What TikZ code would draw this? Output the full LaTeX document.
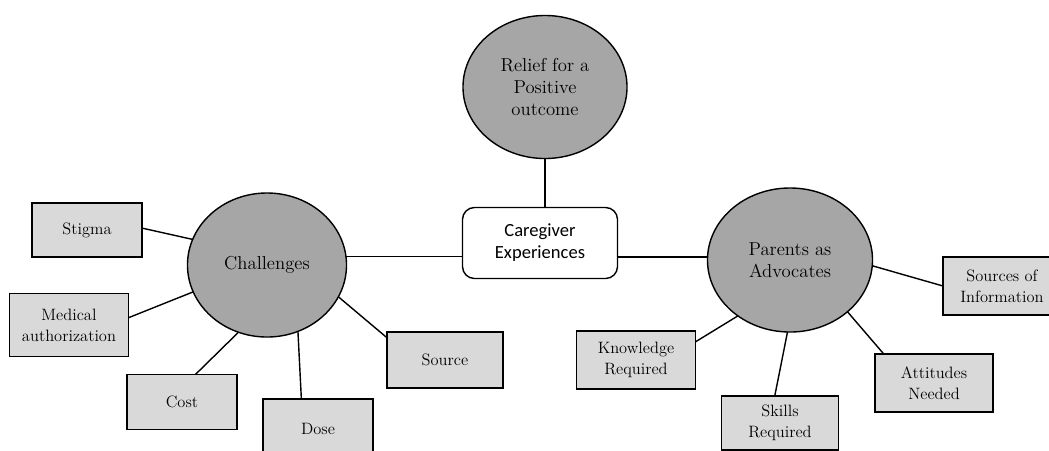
\documentclass[tikz,border=0pt]{standalone}
\usepackage{fontspec}
\newfontfamily\carlito{Carlito}
\usetikzlibrary{shapes.geometric}
\definecolor{bubblegray}{RGB}{166,166,166}
\definecolor{leafgray}{RGB}{217,217,217}
\begin{document}
\begin{tikzpicture}[x=0.025cm, y=-0.025cm,
    bubble/.style={ellipse, draw, line width=1pt, fill=bubblegray, inner sep=0pt, outer sep=0pt,
        align=center, font=\rmfamily\fontsize{13.3}{15.6}\selectfont},
    leaf/.style={rectangle, draw, line width=1.1pt, fill=leafgray, inner sep=0pt, outer sep=0pt,
        align=center, font=\rmfamily\fontsize{11.7}{14.9}\selectfont},
    hub/.style={rectangle, rounded corners=0.3cm, draw, line width=1pt, fill=white, inner sep=0pt,
        outer sep=0pt, align=center, font=\carlito\fontsize{13.2}{15.6}\selectfont},
    link/.style={line width=1pt}]
    \useasboundingbox (0,0) rectangle (1049,450);
    % centre and main themes
    \node[hub, minimum width=3.875cm, minimum height=1.775cm] (care) at (540,243) {Caregiver\\Experiences};
    \node[bubble, minimum width=4.1cm, minimum height=3.575cm] (relief) at (545,87) {Relief for a\\Positive\\outcome};
    \node[bubble, minimum width=3.975cm, minimum height=3.6cm] (chal) at (267,265) {Challenges};
    \node[bubble, minimum width=4.125cm, minimum height=3.6cm] (par) at (790,260) {Parents as\\Advocates};
    % challenges
    \node[leaf, minimum width=2.75cm, minimum height=1.35cm] (stigma) at (87,230) {Stigma};
    \node[leaf, minimum width=2.975cm, minimum height=1.575cm] (med) at (69,325) {Medical\\authorization};
    \node[leaf, minimum width=2.75cm, minimum height=1.375cm] (cost) at (182,402) {Cost};
    \node[leaf, minimum width=2.75cm, minimum height=1.5cm] (dose) at (318,429) {Dose};
    \node[leaf, minimum width=2.9cm, minimum height=1.4cm] (source) at (445,360) {Source};
    % parents as advocates
    \node[leaf, minimum width=2.975cm, minimum height=1.45cm] (know) at (636,360) {Knowledge\\Required};
    \node[leaf, minimum width=2.925cm, minimum height=1.35cm] (skills) at (780,423) {Skills\\Required};
    \node[leaf, minimum width=2.95cm, minimum height=1.45cm] (att) at (934,383) {Attitudes\\Needed};
    \node[leaf, minimum width=2.95cm, minimum height=1.45cm] (sinfo) at (1002,286) {Sources of\\Information};
    % connectors
    \draw[link] (relief.south) -- (relief.south |- care.north);
    \draw[link] (chal.6) -- (chal.6 -| care.west);
    \draw[link] (par.178) -- (par.178 -| care.east);
    \draw[link] (stigma.2) -- (chal.161);
    \draw[link] (med.7) -- (chal.200);
    \draw[link] (cost.64) -- (chal.247);
    \draw[link] (dose.119) -- (chal.295);
    \draw[link] (source.159) -- (chal.336);
    \draw[link] (know.17) -- (par.227);
    \draw[link] (skills.101) -- (par.268);
    \draw[link] (att.150) -- (par.318);
    \draw[link] (sinfo.west) -- (par.356);
\end{tikzpicture}
\end{document}
